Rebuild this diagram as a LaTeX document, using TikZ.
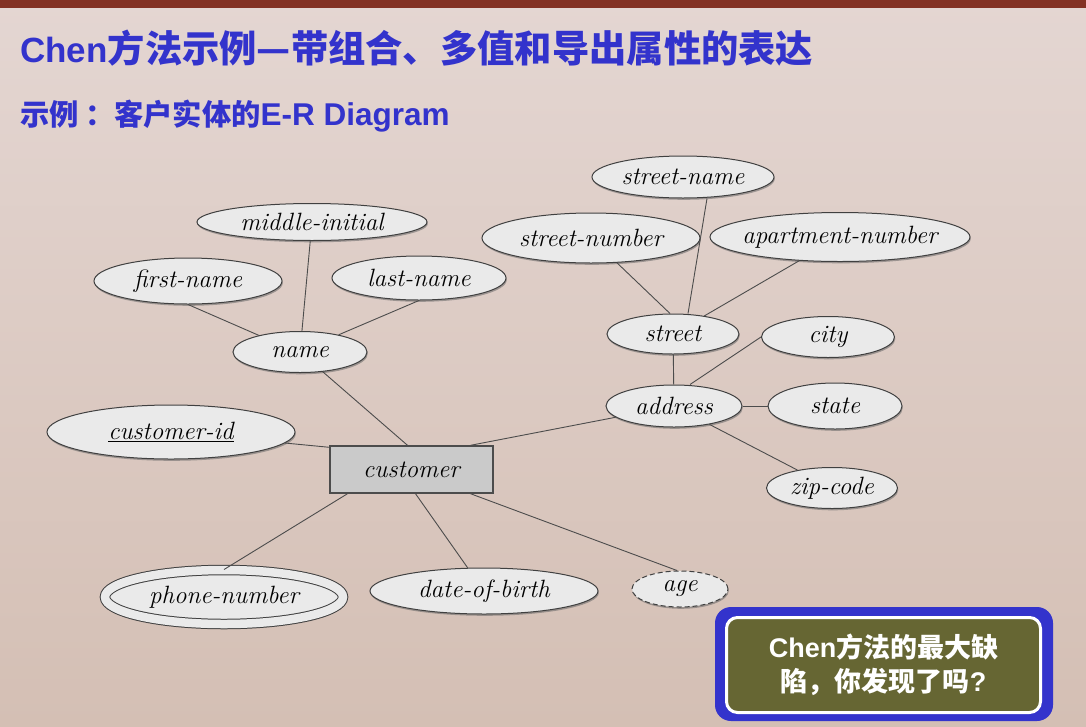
\documentclass[tikz,border=0pt]{standalone}
\usepackage{fontspec}
\newfontfamily\cjk{Noto Sans CJK SC}
\newfontfamily\arial{Liberation Sans}
\usetikzlibrary{shapes.geometric,shadows}

\definecolor{bgtop}{HTML}{E4D6D2}
\definecolor{bgbot}{HTML}{D4BFB4}
\definecolor{barbrown}{HTML}{833224}
\definecolor{titleblue}{HTML}{3333CC}
\definecolor{attrfill}{HTML}{EAEAEA}
\definecolor{entfill}{HTML}{CACACA}
\definecolor{olive}{HTML}{666633}

\tikzset{
  attr/.style={ellipse, draw=black!75, line width=1pt, fill=attrfill,
    inner xsep=-20pt, inner ysep=0pt,
    font=\fontsize{25}{30}\selectfont\itshape,
    drop shadow={shadow xshift=0.8pt, shadow yshift=-1.8pt, fill=black!60, opacity=0.55}},
  multiattr/.style={attr, double=attrfill, double distance=8.5pt},
  derivedattr/.style={attr, dash pattern=on 5pt off 3pt},
  entity/.style={rectangle, draw=black!70, line width=1.4pt, fill=entfill,
    minimum width=163pt, minimum height=47pt, inner sep=0pt,
    font=\fontsize{25}{30}\selectfont\itshape},
  link/.style={draw=black!70, line width=0.9pt},
  heading/.style={anchor=base west, inner sep=0pt, text=titleblue},
}

\begin{document}
\begin{tikzpicture}[x=1pt,y=-1pt]
  % page background and top band
  \shade[top color=bgtop, bottom color=bgbot] (0,0) rectangle (1086,726);
  \fill[barbrown] (0,0) rectangle (1086,8);

  % headings
  \node[heading, font=\bfseries] (title) at (20,62)
    {{\fontsize{35}{42}\selectfont\arial Chen}{\fontsize{37.3}{44}\selectfont\cjk 方法示例—带组合、多值和导出属性的表达}};
  \node[heading, font=\bfseries] (subtitle) at (20,125)
    {{\fontsize{29.3}{35}\selectfont\cjk 示例\hspace{7pt}：\hspace{-1pt}客户实体的}{\fontsize{31.5}{36}\selectfont\arial E-R Diagram}};

  % composite attribute: name
  \node[attr, minimum width=230pt, minimum height=37pt] (mi) at (312,222) {middle-initial};
  \node[attr, minimum width=188pt, minimum height=46pt] (fn) at (188,281) {first-name};
  \node[attr, minimum width=174pt, minimum height=44pt] (ln) at (419,278) {last-name};
  \node[attr, minimum width=134pt, minimum height=41pt] (name) at (300,352) {name};

  % composite attribute: address
  \node[attr, minimum width=182pt, minimum height=42pt] (sn) at (683,177) {street-name};
  \node[attr, minimum width=218pt, minimum height=50pt] (snum) at (591,238) {street-number};
  \node[attr, minimum width=260pt, minimum height=49pt] (apt) at (840,237) {apartment-number};
  \node[attr, minimum width=132pt, minimum height=40pt] (street) at (673,334) {street};
  \node[attr, minimum width=133pt, minimum height=41pt] (city) at (828,337) {city};
  \node[attr, minimum width=136pt, minimum height=42pt] (address) at (674,406) {address};
  \node[attr, minimum width=134pt, minimum height=46pt] (state) at (835,406) {state};
  \node[attr, minimum width=131pt, minimum height=41pt] (zip) at (832,488) {zip-code};

  % entity and its simple / multivalued / derived attributes
  \node[attr, minimum width=248pt, minimum height=54pt] (cid) at (171,432) {\underline{customer-id}};
  \node[entity] (customer) at (411.5,469.5) {customer};
  \node[multiattr, minimum width=238pt, minimum height=54pt] (phone) at (224,597) {phone-number};
  \node[attr, minimum width=228pt, minimum height=46pt] (dob) at (484,591) {date-of-birth};
  \node[derivedattr, minimum width=96pt, minimum height=36pt] (age) at (680,589) {age};

  % connectors
  \draw[link] (fn.south) -- (name.158);
  \draw[link] (mi) -- (name);
  \draw[link] (ln.south) -- (name.24);
  \draw[link] (name) -- ([xshift=-4pt]customer.north);

  \draw[link] ([xshift=24pt]sn.south) -- ([xshift=15pt]street.north);
  \draw[link] (snum) -- ([xshift=-3pt]street.north);
  \draw[link] (apt) -- (street.30);
  \draw[link] (street) -- (address);
  \draw[link] (city.west) -- ([xshift=16pt]address.north);
  \draw[link] (state) -- (address);
  \draw[link] (zip) -- (address);

  \draw[link] (cid) -- ([yshift=-2pt]customer.north west);
  \draw[link] ([xshift=59pt]customer.north) -- (address);
  \draw[link] ([xshift=-64pt]customer.south) -- (phone.north);
  \draw[link] ([xshift=4pt]customer.south) -- (dob);
  \draw[link] ([xshift=59pt]customer.south) -- ([xshift=-3pt]age.north);

  % question callout
  \fill[titleblue, rounded corners=16pt] (715,607) rectangle (1053,721);
  \node[rectangle, rounded corners=11pt, fill=olive, draw=white, line width=3pt,
        minimum width=314pt, minimum height=95pt, inner sep=0pt,
        text=white, align=center, font=\fontsize{27}{34}\selectfont\bfseries]
        (question) at (883.5,665)
    {{\arial Chen}{\cjk 方法的最大缺}\\{\cjk 陷，你发现了吗}{\arial ?}};
\end{tikzpicture}
\end{document}
